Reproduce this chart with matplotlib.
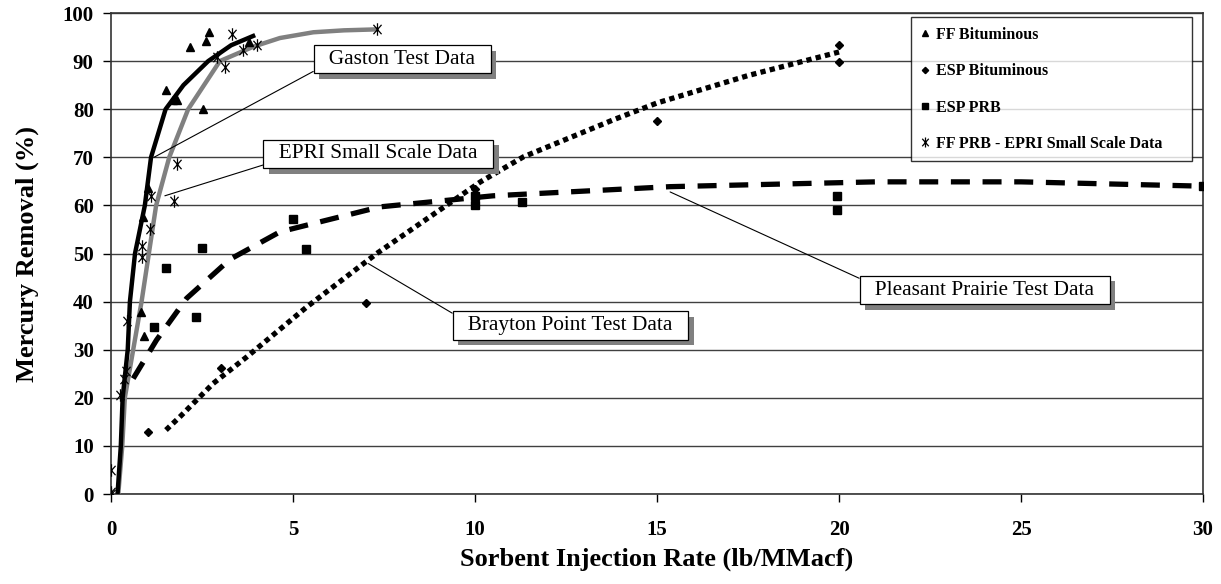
import numpy as np
import matplotlib.pyplot as plt
import matplotlib.patheffects as pe
from matplotlib.path import Path

plt.rcParams['font.family'] = ['Liberation Serif', 'DejaVu Serif']

# measured data (sorbent rate lb/MMacf, Hg removal %)
ff_bit_x = [0.82, 0.92, 0.89, 1.02, 1.51, 1.70, 1.80, 2.54, 2.17, 2.61, 2.70, 3.80]
ff_bit_y = [37.9, 32.8, 57.6, 63.7, 84.0, 82.0, 82.0, 80.0, 93.0, 94.1, 96.0, 94.0]

esp_bit_x = [1.02, 3.01, 7.0, 10.0, 15.0, 20.0, 20.0]
esp_bit_y = [12.8, 26.3, 39.7, 63.5, 77.5, 93.3, 89.8]

esp_prb_x = [1.18, 1.51, 2.34, 2.51, 4.99, 5.37, 10.0, 10.0, 11.28, 19.95, 19.95, 30.0]
esp_prb_y = [34.7, 46.9, 36.7, 51.1, 57.1, 50.9, 60.0, 62.0, 60.8, 62.0, 59.0, 64.0]

ff_prb_x = [0.0, 0.0, 0.0, 0.25, 0.35, 0.41, 0.45, 0.84, 0.84, 1.07, 1.09, 1.73, 1.82,
            2.90, 3.13, 3.33, 3.63, 4.00, 7.30]
ff_prb_y = [0.0, 0.5, 5.0, 20.5, 24.0, 25.5, 36.0, 49.2, 51.5, 55.0, 62.0, 61.0, 68.7,
            90.9, 88.8, 95.6, 92.3, 93.3, 96.6]

# fitted curves
gaston_x = [0.18, 0.27, 0.32, 0.46, 0.52, 0.66, 0.93, 1.10, 1.50, 1.99, 2.67, 3.30, 3.96]
gaston_y = [0.0, 10.0, 20.0, 30.0, 40.0, 50.0, 60.0, 70.0, 80.0, 85.0, 90.0, 93.3, 95.4]

epri_x = [0.20, 0.31, 0.38, 0.61, 0.84, 1.04, 1.24, 1.60, 2.12, 2.99, 3.91, 4.64, 5.56, 6.40, 7.30]
epri_y = [0.0, 10.0, 20.0, 30.0, 40.0, 50.0, 60.0, 70.0, 80.0, 90.0, 93.0, 94.8, 96.0, 96.4, 96.6]

pp_x = [0.61, 1.25, 2.08, 3.27, 4.64, 7.39, 10.5, 15.36, 21.0, 25.0, 30.0]
pp_y = [24.0, 32.0, 40.7, 48.8, 54.5, 59.7, 62.0, 63.9, 64.9, 64.9, 64.0]

bp_x = [1.51, 1.90, 2.81, 3.73, 5.38, 7.30, 10.15, 11.33, 13.8, 15.0, 17.5, 20.0]
bp_y = [13.3, 16.1, 23.0, 28.5, 38.9, 50.0, 64.9, 70.1, 77.8, 81.3, 87.0, 91.9]

# excel style asterisk: an X with a vertical bar
star = Path([(0, -1), (0, 1), (-0.65, -0.75), (0.65, 0.75), (-0.65, 0.75), (0.65, -0.75)],
            [Path.MOVETO, Path.LINETO, Path.MOVETO, Path.LINETO, Path.MOVETO, Path.LINETO])

fig = plt.figure(figsize=(12.21, 5.84), dpi=100)
ax = fig.add_axes([0.0909, 0.1541, 0.8944, 0.8236])

ax.set_xlim(0, 30)
ax.set_ylim(0, 100)
ax.set_yticks(np.arange(0, 101, 10))
ax.set_xticks(np.arange(0, 31, 5))
ax.yaxis.grid(True, color='#404040', lw=1)
ax.set_axisbelow(True)
for s in ax.spines.values():
    s.set_color('#333333')
    s.set_linewidth(1.2)

# fit lines
ax.plot(epri_x, epri_y, color='#808080', lw=3.2, solid_capstyle='butt', zorder=3)
ax.plot(gaston_x, gaston_y, color='black', lw=3.2, solid_capstyle='butt', zorder=3)
ax.plot(pp_x, pp_y, color='black', lw=3.8, dashes=(3.6, 2.4), dash_capstyle='butt', zorder=3)
ax.plot(bp_x, bp_y, color='black', lw=3.8, dashes=(1, 0.8), dash_capstyle='butt', zorder=3)

# data points
h1, = ax.plot(ff_bit_x, ff_bit_y, ls='none', marker='^', ms=6, color='black', label='FF Bituminous', zorder=4)
h2, = ax.plot(esp_bit_x, esp_bit_y, ls='none', marker='D', ms=4, color='black', label='ESP Bituminous', zorder=4)
h3, = ax.plot(esp_prb_x, esp_prb_y, ls='none', marker='s', ms=6, color='black', label='ESP PRB', zorder=4)
h4, = ax.plot(ff_prb_x, ff_prb_y, ls='none', marker=star, ms=9, mew=0.9, color='black',
              label='FF PRB - EPRI Small Scale Data', zorder=4)

pad = '     '
leg = ax.legend(handles=[h1, h2, h3, h4], labels=[h.get_label() + pad for h in [h1, h2, h3, h4]],
                loc='upper right', bbox_to_anchor=(0.9897, 0.991),
                borderaxespad=0, frameon=True, fancybox=False, edgecolor='black',
                prop={'weight': 'bold', 'size': 11.5}, handlelength=0.6, handletextpad=0.35,
                labelspacing=1.27, borderpad=0.6, markerscale=0.8)
leg.get_frame().set_linewidth(1)
leg.set_zorder(6)

# callouts
callouts = [
    ('Gaston Test Data', (1.18, 70.0), (8.0, 90.4), (0, 0)),
    ('EPRI Small Scale Data', (1.48, 62.0), (7.34, 70.7), (0, 0)),
    ('Brayton Point Test Data', (7.07, 47.9), (12.62, 35.0), (0, 1)),
    ('Pleasant Prairie Test Data', (15.36, 62.8), (24.0, 42.4), (0, 1)),
]
for txt, pt, pos, rel in callouts:
    t = ax.annotate('  ' + txt + '  ', xy=pt, xytext=pos, ha='center', va='center',
                    fontsize=15.3,
                    bbox=dict(boxstyle='square,pad=0.22', fc='white', ec='black', lw=0.9),
                    arrowprops=dict(arrowstyle='-', color='black', lw=0.8, relpos=rel,
                                    shrinkA=0, shrinkB=0),
                    zorder=5)
    t.get_bbox_patch().set_path_effects([
        pe.SimplePatchShadow(offset=(4, -4), shadow_rgbFace='#808080', alpha=1.0),
        pe.Normal()])

ax.tick_params(axis='x', direction='out', length=5.5, width=1, pad=13, labelsize=15)
ax.tick_params(axis='y', direction='out', length=5.5, width=1, pad=7, labelsize=15)
for lab in ax.get_xticklabels() + ax.get_yticklabels():
    lab.set_fontweight('bold')

ax.set_xlabel('Sorbent Injection Rate (lb/MMacf)', fontsize=19, fontweight='bold', labelpad=6)
ax.set_ylabel('Mercury Removal (%)', fontsize=19, fontweight='bold', labelpad=17)

fig.savefig('out.png', dpi=100)
